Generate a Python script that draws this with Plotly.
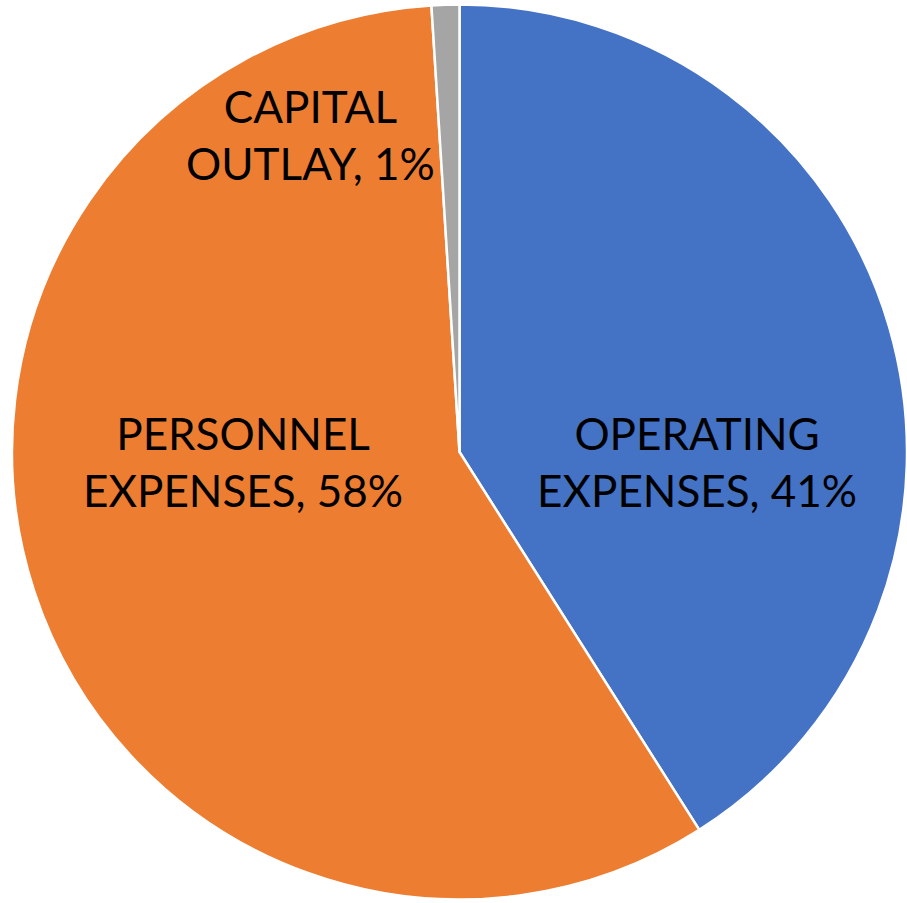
import plotly.graph_objects as go

# Budget breakdown by expense class
categories = ["OPERATING EXPENSES", "PERSONNEL EXPENSES", "CAPITAL OUTLAY"]
label_lines = [["OPERATING", "EXPENSES"], ["PERSONNEL", "EXPENSES"], ["CAPITAL", "OUTLAY"]]
shares = [41, 58, 1]
colors = ["#4472C4", "#ED7D31", "#A5A5A5"]

W, H = 907, 903
cx, cy, r = 460, 452, 448

# label anchor points in pixels (centre of each two-line label)
label_pos = [(697, 461), (243, 461), (310, 134)]

fig = go.Figure(
    go.Pie(
        labels=categories,
        values=shares,
        sort=False,
        direction="clockwise",
        rotation=0,
        marker=dict(colors=colors, line=dict(color="white", width=2.5)),
        textinfo="none",
        hoverinfo="label+percent",
        domain=dict(
            x=[(cx - r) / W, min(1.0, (cx + r) / W)],
            y=[(H - cy - r) / H, (H - cy + r) / H],
        ),
        showlegend=False,
    )
)

total = sum(shares)
annotations = []
for lines, v, (px, py) in zip(label_lines, shares, label_pos):
    pct = round(100 * v / total)
    annotations.append(
        dict(
            x=px / W,
            y=1 - py / H,
            xref="paper",
            yref="paper",
            text=f"{lines[0]}<br>{lines[1]}, {pct}%",
            showarrow=False,
            xanchor="center",
            yanchor="middle",
            align="center",
            font=dict(family="Lato, Carlito, Calibri, sans-serif", size=44, color="black"),
        )
    )

fig.update_layout(
    width=W,
    height=H,
    margin=dict(l=0, r=0, t=0, b=0),
    paper_bgcolor="white",
    plot_bgcolor="white",
    annotations=annotations,
)

fig.write_html("out.html")
